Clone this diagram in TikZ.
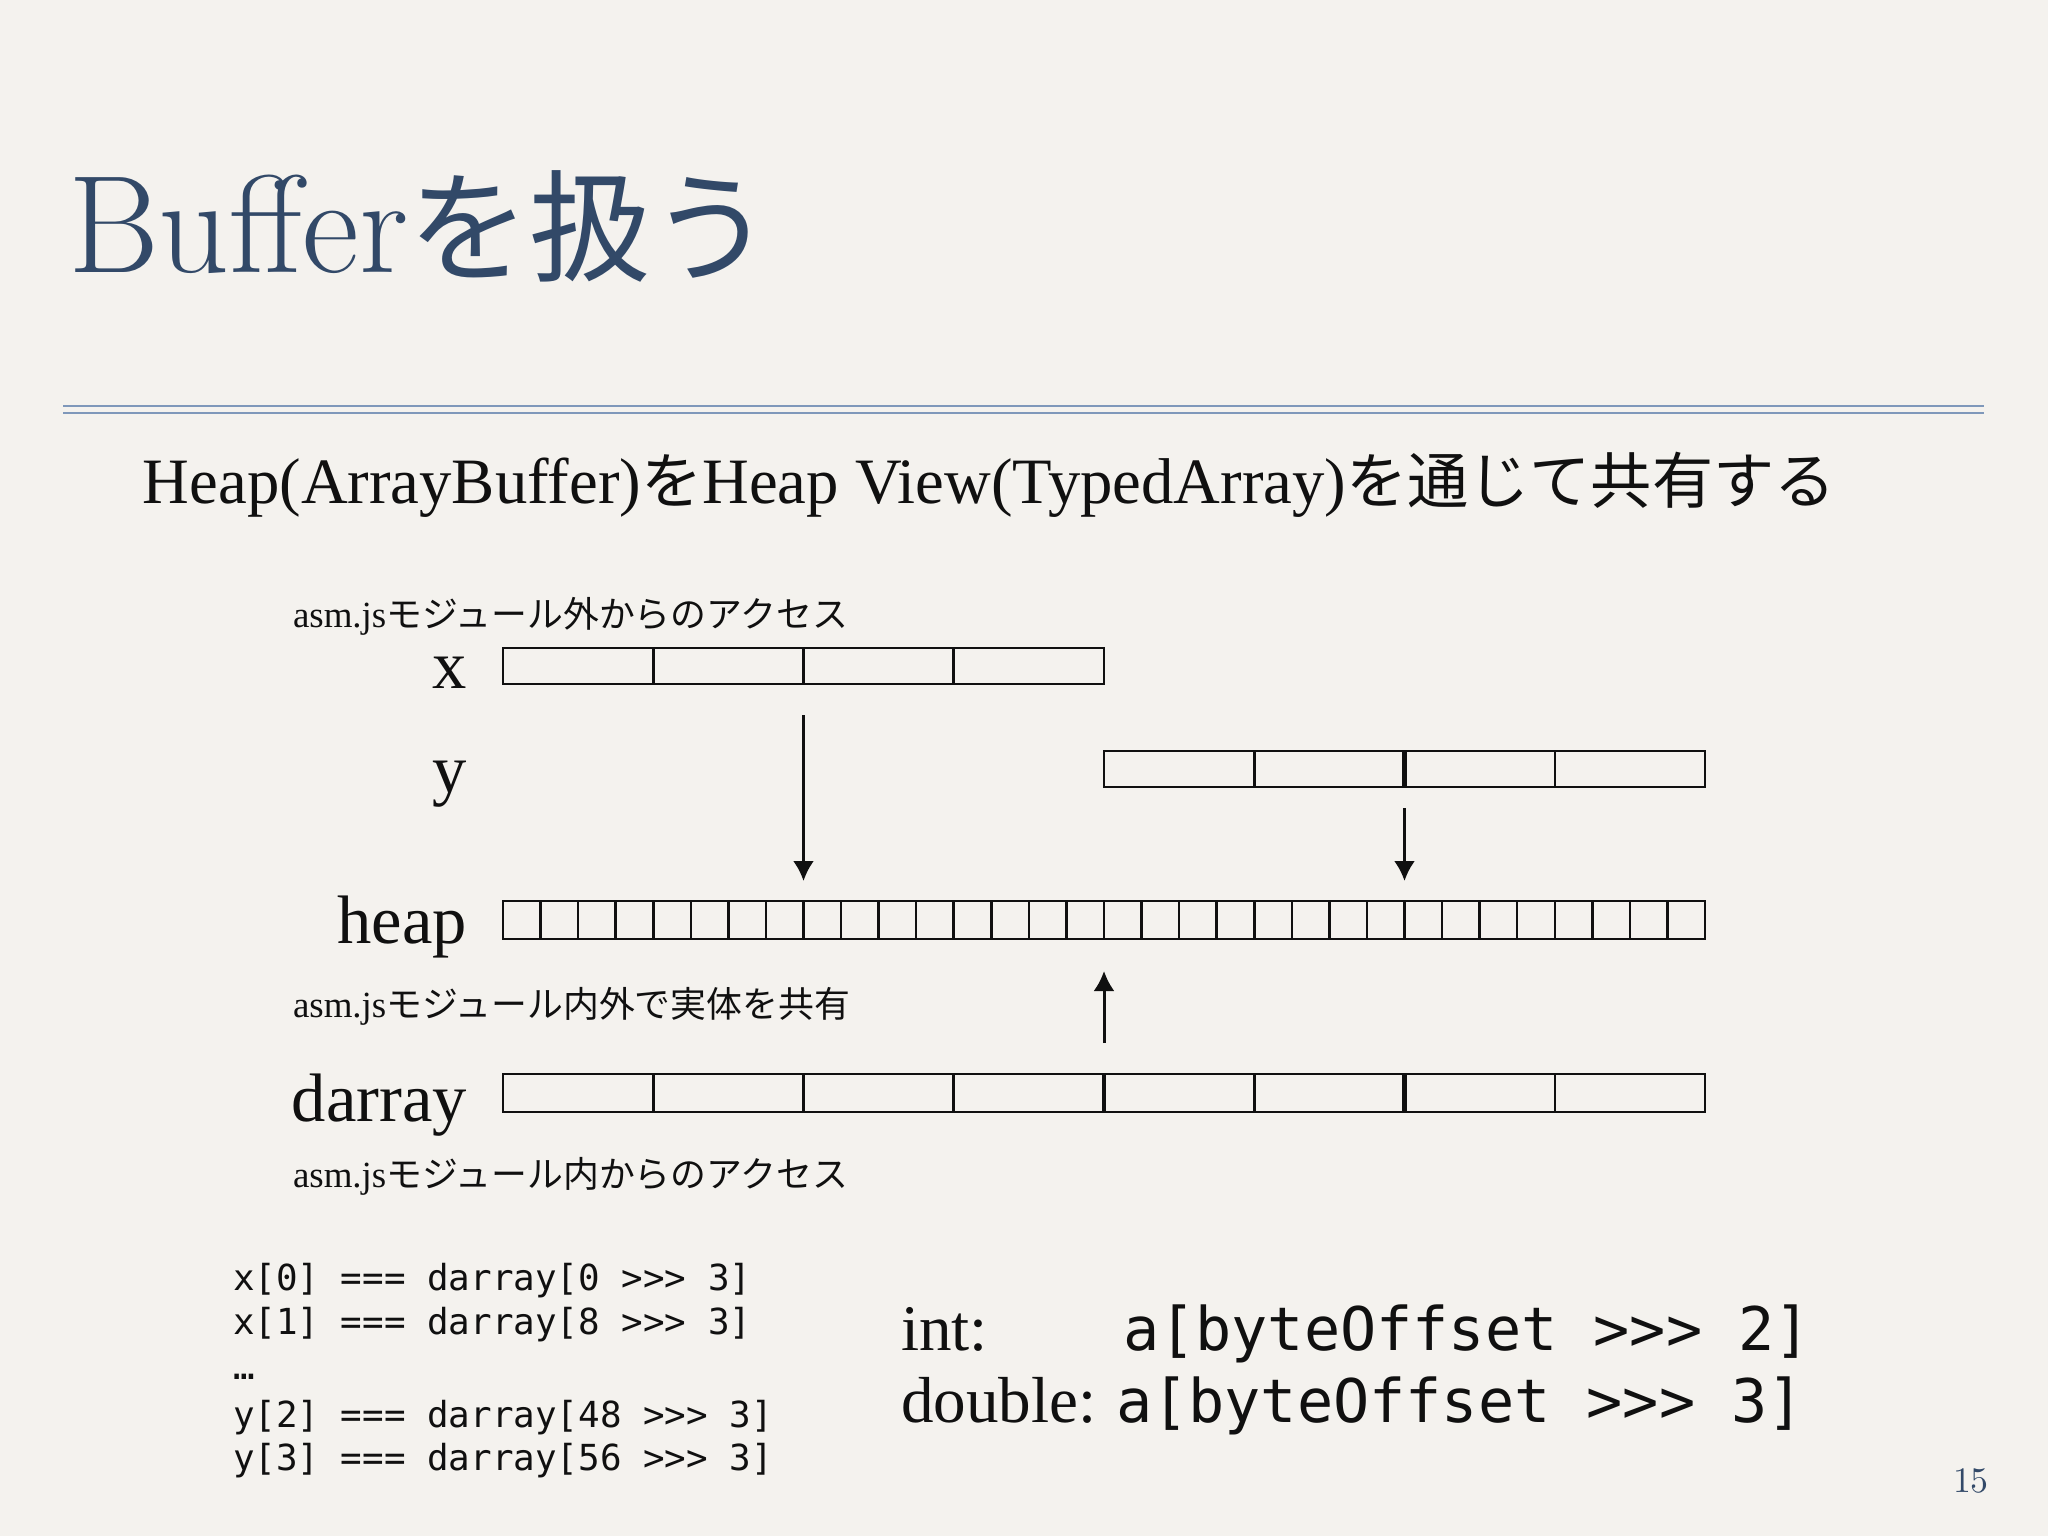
\documentclass[tikz,border=0pt]{standalone}
\usepackage{fontspec}
\usetikzlibrary{arrows.meta}
\newfontfamily\bodyf{Liberation Serif}
\newfontfamily\jpf{Noto Sans CJK JP}
\newfontfamily\monof{DejaVu Sans Mono}
\definecolor{paper}{RGB}{244,242,238}
\definecolor{titleblue}{RGB}{50,73,104}
\definecolor{rulecol}{RGB}{127,152,186}
\definecolor{ink}{RGB}{16,16,16}
\newcommand{\fs}[1]{\fontsize{#1}{#1}\selectfont}
\begin{document}
\begin{tikzpicture}[x=0.01cm,y=-0.01cm,
  txt/.style={inner sep=0pt, outer sep=0pt, anchor=base west, text=ink},
  lbl/.style={inner sep=0pt, outer sep=0pt, anchor=base east, text=ink, font=\bodyf\fs{19.5}},
  asmlbl/.style={txt, font=\bodyf\fs{10.5}},
  codeline/.style={txt, font=\monof\fs{10.2}},
  bigcode/.style={txt, font=\monof\fs{17.1}},
  typelbl/.style={txt, font=\bodyf\fs{18.5}},
  cellbox/.style={draw=ink, line width=0.72pt, inner sep=0pt, outer sep=0pt, anchor=north west},
  widecell/.style={cellbox, minimum width=1.5025cm},
  narrowcell/.style={cellbox, minimum width=0.375625cm},
  thickdiv/.style={draw=ink, line width=1.2pt},
  arr/.style={draw=ink, line width=0.85pt, -{Latex[length=2mm,width=2.1mm]}},
  rulesty/.style={draw=rulecol, line width=0.6pt}]
\useasboundingbox (0,0) rectangle (2048,1536);
\fill[paper] (0,0) rectangle (2048,1536);

% title
\node[txt, text=titleblue] (title) at (68,272) {\fs{39.5}Buffer{\jpf\fs{34.5}を扱う}};
\draw[rulesty] (63,406) -- (1984,406);
\draw[rulesty] (63,413) -- (1984,413);

% subtitle
\node[txt] (sub) at (143,503) {\bodyf\fs{18.4}Heap(ArrayBuffer){\jpf\fs{17.4}を}Heap View(TypedArray){\jpf\fs{17.4}を通じて共有する}};

% labels
\node[asmlbl] (outside) at (293,627) {asm.js{\jpf\fs{10.2}モジュール外からのアクセス}};
\node[asmlbl] (shared) at (293,1017) {asm.js{\jpf\fs{10.2}モジュール内外で実体を共有}};
\node[asmlbl] (inside) at (293,1187) {asm.js{\jpf\fs{10.2}モジュール内からのアクセス}};

\node[lbl] (lx) at (467,688) {x};
\node[lbl] (ly) at (467,792) {y};
\node[lbl] (lheap) at (467,943) {heap};
\node[lbl] (ldarray) at (467,1121) {darray};

% rows
\foreach \i in {0,...,3}
  \node[widecell, minimum height=0.36cm] (x\i) at ({503+150.25*\i},648) {};
\foreach \i in {0,...,3}
  \node[widecell, minimum height=0.36cm] (y\i) at ({1104+150.25*\i},751) {};
\foreach \i in {0,...,31}
  \node[narrowcell, minimum height=0.38cm] (h\i) at ({503+37.5625*\i},901) {};
\foreach \i in {0,...,7}
  \node[widecell, minimum height=0.38cm] (d\i) at ({503+150.25*\i},1074) {};

\draw[thickdiv] (y2.north west) -- (y2.south west);
\draw[thickdiv] (d4.north west) -- (d4.south west);
\draw[thickdiv] (d6.north west) -- (d6.south west);

% arrows
\coordinate (a1s) at (803.5,715);
\coordinate (a1e) at (803.5,881);
\coordinate (a2s) at (1404.5,808);
\coordinate (a2e) at (1404.5,881);
\coordinate (a3s) at (1104,1043);
\coordinate (a3e) at (1104,971);
\draw[arr] (a1s) -- (a1e);
\draw[arr] (a2s) -- (a2e);
\draw[arr] (a3s) -- (a3e);

% code
\node[codeline] (c1) at (233,1290) {x[0] === darray[0 >>> 3]};
\node[codeline] (c2) at (233,1334) {x[1] === darray[8 >>> 3]};
\node[codeline] (c3) at (233,1379) {…};
\node[codeline] (c4) at (233,1427) {y[2] === darray[48 >>> 3]};
\node[codeline] (c5) at (233,1470) {y[3] === darray[56 >>> 3]};

\node[typelbl] (tint) at (901,1350) {int:};
\node[bigcode] (cint) at (1123,1350) {a[byteOffset >>> 2]};
\node[typelbl] (tdbl) at (901,1422) {double:};
\node[bigcode] (cdbl) at (1116,1422) {a[byteOffset >>> 3]};

% page number
\node[txt, text=titleblue] (pg) at (1953,1492) {\fs{10.2}15};
\end{tikzpicture}
\end{document}
